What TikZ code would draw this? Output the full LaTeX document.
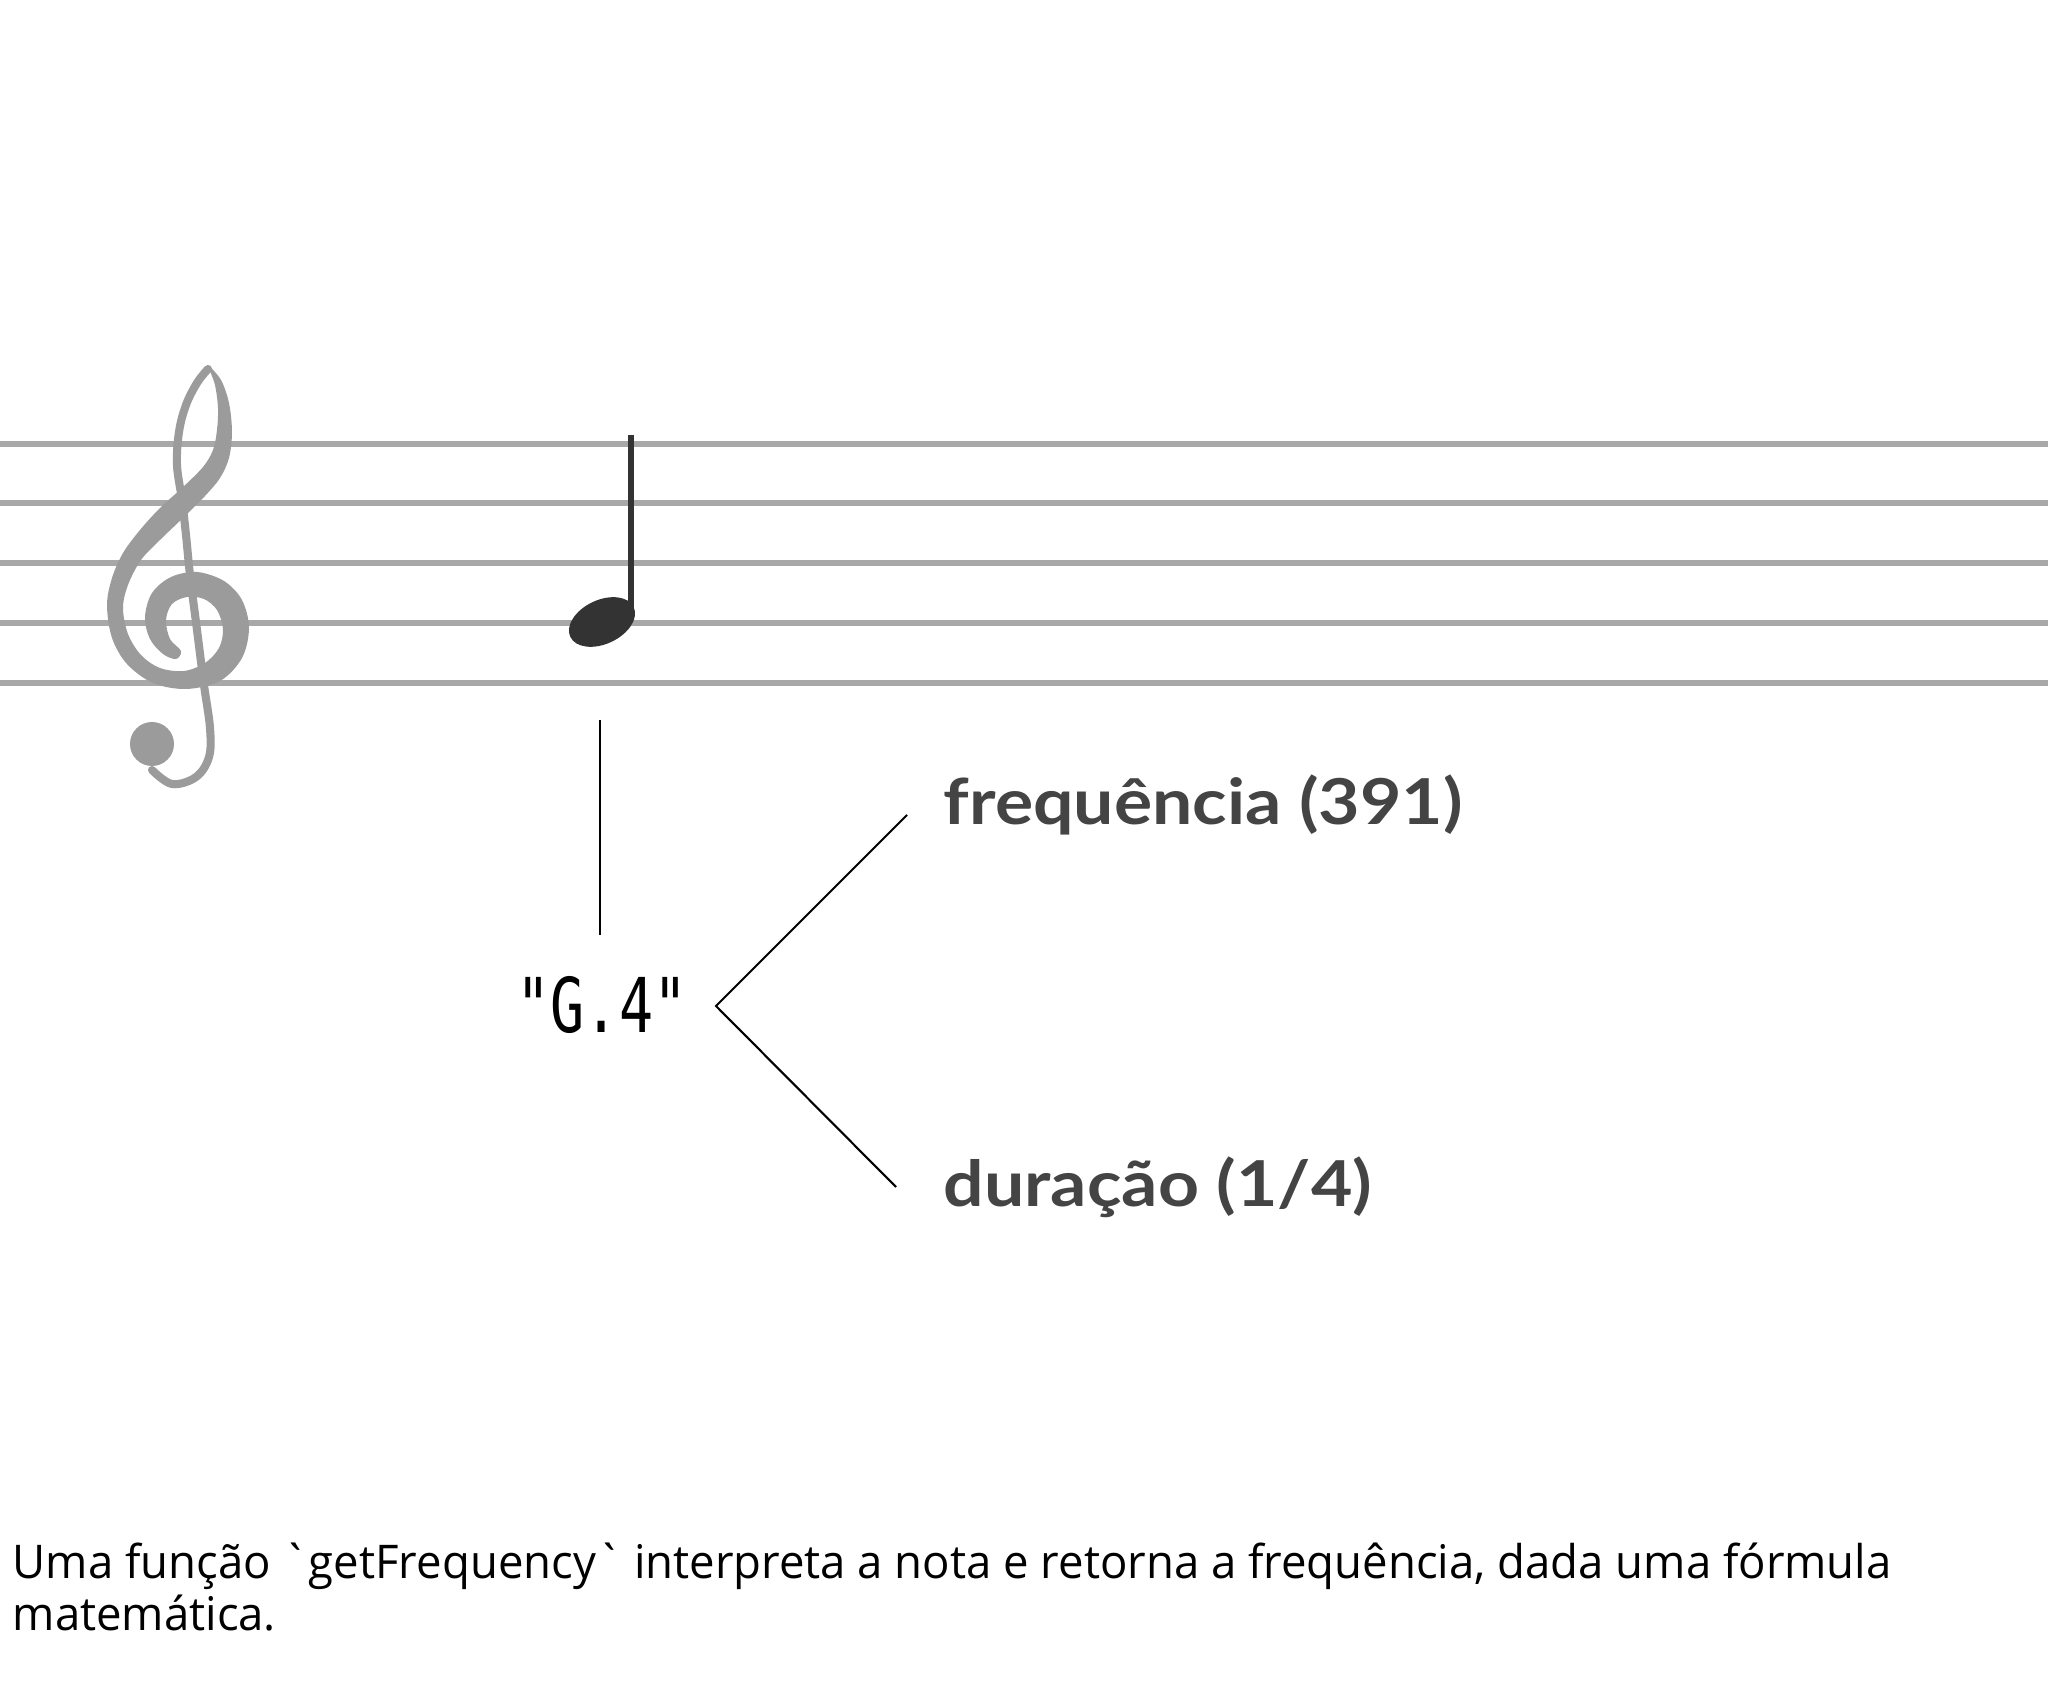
\documentclass[tikz,border=0pt]{standalone}
\usepackage{fontspec}
\usepackage{tikz}
\usetikzlibrary{positioning}
\newfontfamily\labelfont{Lato}[FakeStretch=1.13]
\newfontfamily\codefont{DejaVu Sans Mono}[FakeStretch=0.75]
\newfontfamily\notefont{Open Sans}[FakeStretch=0.98,Ligatures=TeXOff]
\definecolor{staffgray}{HTML}{A8A8A8}
\definecolor{clefgray}{HTML}{9B9B9B}
\definecolor{inkgray}{HTML}{333333}
\definecolor{labelgray}{HTML}{444444}
\tikzset{
  staffline/.style={staffgray, line width=1.7pt},
  link/.style={black, line width=0.6pt},
  partlabel/.style={labelgray, anchor=base west, inner sep=0pt,
    font=\labelfont\bfseries\fontsize{18pt}{22pt}\selectfont},
  codelabel/.style={anchor=base, inner sep=0pt,
    font=\codefont\fontsize{21.5pt}{26pt}\selectfont},
  caption/.style={anchor=base west, inner sep=0pt,
    font=\notefont\fontsize{13.2pt}{15pt}\selectfont}
}

\begin{document}
\begin{tikzpicture}[x=0.01cm, y=-0.01cm]
      \useasboundingbox (0,0) rectangle (2048,1692);
      % staff
      \foreach \y in {444,503,563,623,683}
        \draw[staffline] (0,\y) -- (2048,\y);

      % treble clef
      \fill[clefgray] plot[smooth cycle, tension=0.55] coordinates {
        (209,367) (215,385) (218,408) (217,430) (213,450) (203,467) (182,488)
        (160,508) (140,530) (123,553) (112,578) (107,605) (112,638) (127,664)
        (153,683) (186,689) (220,681) (242,658) (249,628) (242,600) (224,581)
        (197,572) (171,577) (152,593) (145,617) (150,639) (163,654) (176,659)
        (181,651) (170,639) (166,620) (172,604) (187,597) (204,599) (217,610)
        (223,629) (219,648) (205,663) (184,671) (160,668) (141,655) (128,634)
        (123,608) (128,585) (141,560) (160,540) (185,516) (205,496) (220,478)
        (229,458) (232,432) (229,403) (221,380)};
      \draw[clefgray, line width=2.3pt, line cap=round] plot[smooth, tension=0.6] coordinates {
        (208,369) (197,383) (186,405) (179,432) (177,465) (182,500) (186,535)
        (190,575) (197,630) (204,685) (210,728) (209,757) (196,777) (172,784) (152,770)};
      \fill[clefgray] (152,744) circle [radius=22];

      % quarter note
      \fill[inkgray, rotate around={25:(602,622)}] (602,622) ellipse [x radius=35, y radius=22];
      \draw[inkgray, line width=1.7pt] (631,435) -- (631,618);

      \node[codelabel] (g4) at (602,1033) {"G.4"};
      \node[partlabel] (freq) at (943,825) {frequência (391)};
      \node[partlabel] (dur) at (943,1207) {duração (1/4)};

      \coordinate (notetail) at (600,720);
      \coordinate (g4top) at (600,935);
      \coordinate (fork) at (716,1006);
      \coordinate (freqend) at (907,815);
      \coordinate (durend) at (896,1187);

      \draw[link] (notetail) -- (g4top);
      \draw[link] (freqend) -- (fork) -- (durend);

      \node[caption] (cap1) at (12,1578) {Uma função `getFrequency` interpreta a nota e retorna a frequência, dada uma fórmula};
      \node[caption] (cap2) at (12,1630) {matemática.};
    \end{tikzpicture}
\end{document}
